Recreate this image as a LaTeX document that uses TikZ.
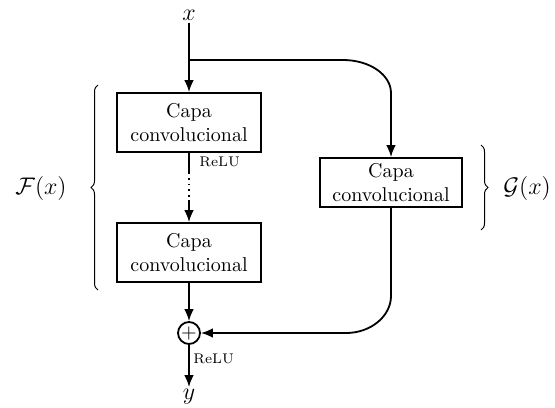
\documentclass[tikz,border=0pt]{standalone}
\usetikzlibrary{arrows.meta,decorations.pathreplacing}
\begin{document}
\begin{tikzpicture}[x=0.5pt,y=-0.5pt,
  conv/.style={draw,line width=0.9pt,align=center,inner sep=0pt,
    minimum width=72pt,minimum height=29.5pt},
  convg/.style={conv,minimum width=71pt,minimum height=24.5pt},
  sumnode/.style={draw,circle,line width=0.9pt,inner sep=0pt,minimum size=11pt},
  link/.style={line width=0.9pt},
  arr/.style={link,-{Latex[length=6pt,width=4.8pt]}},
  relu/.style={font=\scriptsize,inner sep=1pt,anchor=west},
  bracedeco/.style={decorate,decoration={brace,amplitude=3.5pt},line width=0.5pt},
  lbl/.style={font=\large,inner sep=1pt}]
\useasboundingbox (0,0) rectangle (555,407);

% input and output
\node[lbl] (x) at (189,15) {$x$};
\node[lbl] (y) at (189,397) {$y$};

% main branch
\node[conv] (c1) at (189,122.5) {Capa\\convolucional};
\node[conv] (c2) at (189,252.5) {Capa\\convolucional};
\node[sumnode] (sum) at (189,333) {$+$};

% shortcut branch
\node[convg] (g) at (391,182.5) {Capa\\convolucional};

% helper points
\coordinate (split) at (189,60);
\coordinate (k1) at (343,60);
\coordinate (k2) at (391,93);
\coordinate (k3) at (391,296);
\coordinate (k4) at (346,333);
\coordinate (d1) at (189,172);
\coordinate (d2) at (189,200);

% connectors
\draw[arr] (x.south) -- (c1.north);
\draw[arr] (split) -- (k1) .. controls +(27,0) and +(0,-18) .. (k2) -- (g.north);
\draw[link] (c1.south) -- (d1);
\draw[link,dotted] (d1) -- (d2);
\draw[arr] (d2) -- (c2.north);
\draw[arr] (c2.south) -- (sum.north);
\draw[arr] (g.south) -- (k3) .. controls +(0,20) and +(25,0) .. (k4) -- (sum.east);
\draw[arr] (sum.south) -- (y.north);

% activation labels
\node[relu] (r1) at (197,162) {ReLU};
\node[relu] (r2) at (191,359) {ReLU};

% braces
\draw[bracedeco] (98,290) -- (98,85);
\draw[bracedeco] (481,145) -- (481,230);
\node[lbl] (f) at (41,188) {$\mathcal{F}(x)$};
\node[lbl,anchor=west] (gx) at (501,188) {$\mathcal{G}(x)$};
\end{tikzpicture}
\end{document}
